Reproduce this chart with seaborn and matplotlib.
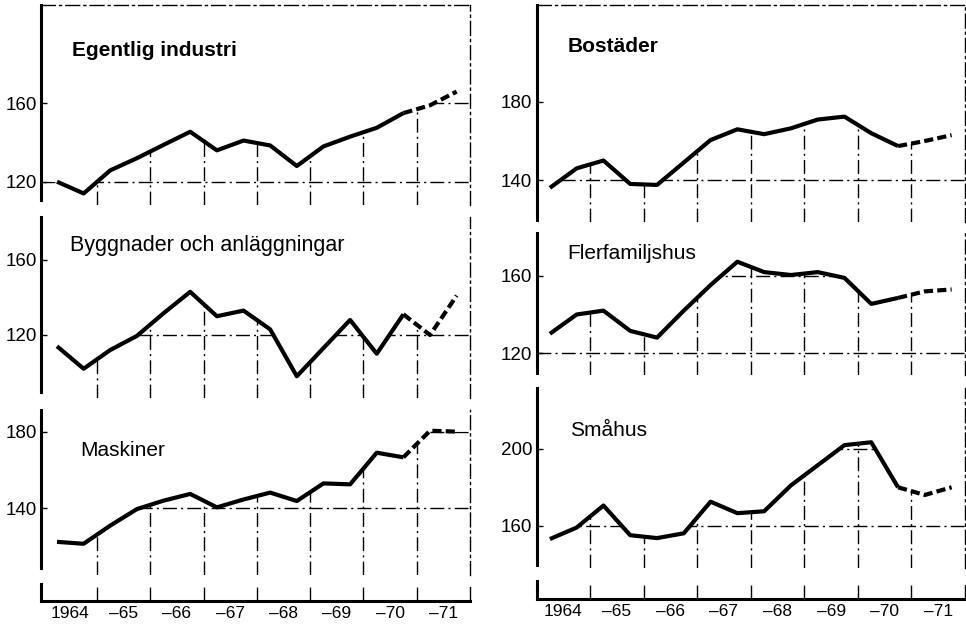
import numpy as np
import pandas as pd
import matplotlib
matplotlib.use("Agg")
import matplotlib.pyplot as plt
import seaborn as sns

# ---------------- data (half-year index values) ----------------
periods = ["1964:1", "1964:2", "1965:1", "1965:2", "1966:1", "1966:2",
           "1967:1", "1967:2", "1968:1", "1968:2", "1969:1", "1969:2",
           "1970:1", "1970:2", "1971:1", "1971:2"]
forecast_from = "1970:2"

egentlig_industri = [120, 114, 125.8, 132, 138.8, 145.5, 136, 141,
                     138.5, 128, 138, 143, 147.5, 155, 159, 166]
byggnader = [114, 102, 112, 119.5, 131.6, 143, 130, 133,
             123, 98, 113, 128, 110, 131, 120, 141]
maskiner = [122.5, 121.5, 131, 139.6, 144, 147.5, 140.5, 144.6,
            148.2, 143.8, 153, 152.5, 169, 166.6, 180.5, 180]
bostader = [136, 146, 150, 138, 137.5, 149, 160.5, 166,
            163.5, 166.5, 171, 172.5, 164, 157.4, 160, 163]
flerfamiljshus = [130, 140, 142, 131.5, 128, 142, 155.3, 167.4,
                  162, 160.5, 162, 159, 145.5, 148.6, 152, 153]
smahus = [153, 159, 170.5, 155, 153.5, 156, 172.5, 166.5,
          167.5, 181, 191.5, 202, 203.5, 180, 176, 180]

titles = ["Egentlig industri", "Byggnader och anläggningar", "Maskiner",
          "Bostäder", "Flerfamiljshus", "Småhus"]
title_bold = [True, False, False, True, False, False]
yticks_list = [[120, 160], [120, 160], [140, 180],
               [140, 180], [120, 160], [160, 200]]
years = [1964, 1965, 1966, 1967, 1968, 1969, 1970, 1971]
year_labels = ["1964", "–65", "–66", "–67", "–68", "–69", "–70", "–71"]

# ---------------- style ----------------
sns.set_style("white")
plt.rcParams["font.family"] = ["Liberation Sans", "DejaVu Sans"]
plt.rcParams["text.color"] = "black"
plt.rcParams["xtick.color"] = "black"
plt.rcParams["ytick.color"] = "black"
plt.rcParams["xtick.labelcolor"] = "black"
plt.rcParams["ytick.labelcolor"] = "black"

W, H = 966, 628
fig = plt.figure(figsize=(W / 100, H / 100), dpi=100)

DASHDOT = (0, (10, 3, 1.5, 3))
SPINE_LW = 2.2


def rect(x0, x1, y0, y1):
    return [x0 / W, 1 - y1 / H, (x1 - x0) / W, (y1 - y0) / H]


def to_x(p):
    y, h = p.split(":")
    return int(y) + (int(h) - 0.5) / 2.0


xpos = np.array([to_x(p) for p in periods])
k = periods.index(forecast_from)

# column definitions: (x0px, x1px, xlim)
cols = [(41, 470, (1963.95, 1972.0)), (536.5, 965, (1964.0, 1972.0))]
# per panel: (col, y0px, y1px, ylim, spine_lo, spine_hi)
panels = [
    (0, 5, 205, (108.1, 210.2), 110.7, 210.2),
    (0, 217, 398, (86.4, 182.9), 89.6, 182.9),
    (0, 410, 575, (105.2, 191.3), 108.9, 191.3),
    (1, 5, 222, (118.5, 229.7), 119.5, 229.7),
    (1, 233, 375, (108.6, 182.3), 109.6, 182.3),
    (1, 388, 568, (137.9, 231.8), 139.5, 231.8),
]
series = [egentlig_industri, byggnader, maskiner, bostader, flerfamiljshus, smahus]
title_pos = [(72, 56), (70, 250.7), (80, 455.7), (568, 51.7), (567.5, 259.3), (570.5, 435.7)]
title_size = [15, 15.5, 15, 15, 15, 15]
bottom_strips = [(0, 584, 601), (1, 581, 599)]

for i, (c, y0, y1, ylim, slo, shi) in enumerate(panels):
    x0, x1, xlim = cols[c]
    ax = fig.add_axes(rect(x0, x1, y0, y1))
    vals = np.array(series[i], dtype=float)
    df = pd.DataFrame({"x": xpos, "v": vals})
    sns.lineplot(data=df.iloc[:k + 1], x="x", y="v", ax=ax, color="black",
                 lw=3.0, solid_joinstyle="round", solid_capstyle="butt")
    sns.lineplot(data=df.iloc[k:], x="x", y="v", ax=ax, color="black",
                 lw=3.0, linestyle=(0, (2.2, 1)), dash_capstyle="butt")
    ax.set_xlim(*xlim)
    ax.set_ylim(*ylim)
    ax.set_xlabel("")
    ax.set_ylabel("")

    # area under the curve used to clip the grid
    xs = np.r_[xlim[0], xpos, xlim[1]]
    ys = np.r_[vals[0], vals, vals[-1]]
    poly = ax.fill_between(xs, ys, ylim[0] - 50, facecolor="none", edgecolor="none")
    clip = poly.get_paths()[0]
    for t in yticks_list[i]:
        ln = ax.axhline(t, color="black", lw=1.0, ls=DASHDOT, zorder=1)
        ln.set_clip_path(clip, ax.transData)
    for yr in years[1:]:
        ln = ax.axvline(yr, color="black", lw=1.0, ls=DASHDOT, zorder=1)
        ln.set_clip_path(clip, ax.transData)

    ax.set_xticks([])
    ax.set_yticks(yticks_list[i])
    ax.tick_params(axis="y", direction="in", length=4, width=1, pad=3,
                   labelsize=13.5, left=True, colors="black")
    for s in ["left", "right", "top", "bottom"]:
        ax.spines[s].set_color("black")
    ax.spines["left"].set_linewidth(SPINE_LW)
    ax.spines["left"].set_bounds(slo, shi)
    ax.spines["right"].set_linewidth(1.0)
    ax.spines["right"].set_linestyle(DASHDOT)
    ax.spines["bottom"].set_visible(False)
    if y0 == 5:
        ax.spines["top"].set_linewidth(1.0)
        ax.spines["top"].set_linestyle(DASHDOT)
    else:
        ax.spines["top"].set_visible(False)
    ax.patch.set_alpha(0)

    tx, ty = title_pos[i]
    fig.text(tx / W, 1 - ty / H, titles[i], fontsize=title_size[i], color="black",
             fontweight="bold" if title_bold[i] else "normal", va="baseline")

for c, y0, y1 in bottom_strips:
    x0, x1, xlim = cols[c]
    ax = fig.add_axes(rect(x0, x1, y0, y1))
    ax.set_xlim(*xlim)
    ax.set_ylim(0, 1)
    for yr in years[1:]:
        ax.axvline(yr, color="black", lw=1.0, ls=DASHDOT)
    ax.set_yticks([])
    ax.set_xticks([y + 0.5 for y in years])
    ax.set_xticklabels(year_labels)
    ax.tick_params(axis="x", length=0, pad=3.5, labelsize=12.5, colors="black")
    ax.spines["left"].set_linewidth(SPINE_LW)
    ax.spines["bottom"].set_linewidth(SPINE_LW)
    ax.spines["left"].set_color("black")
    ax.spines["bottom"].set_color("black")
    ax.spines["top"].set_visible(False)
    ax.spines["right"].set_linewidth(1.0)
    ax.spines["right"].set_linestyle(DASHDOT)
    ax.spines["right"].set_color("black")
    ax.patch.set_alpha(0)

fig.savefig("out.png", dpi=100, facecolor="white")
